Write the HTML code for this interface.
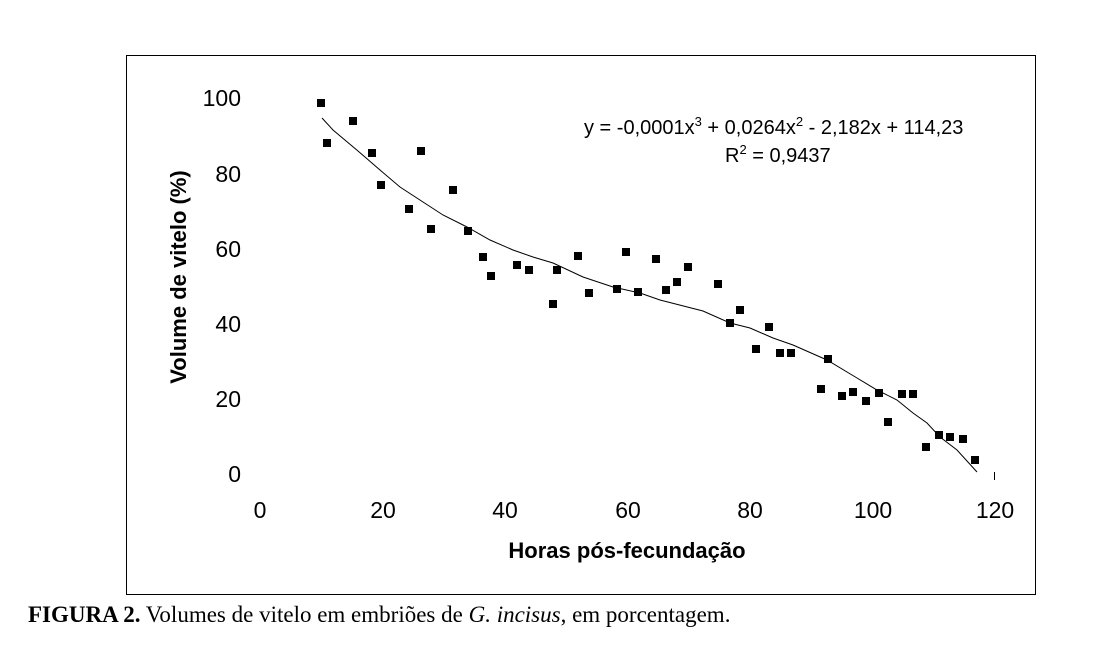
<!DOCTYPE html>
<html><head><meta charset="utf-8"><style>
body{margin:0;background:#fff;width:1113px;height:666px;overflow:hidden}
svg text{font-family:"Liberation Sans",Arial,sans-serif}
</style></head><body>
<svg id="s" width="1113" height="666" viewBox="0 0 1113 666">
<rect x="126.5" y="55.5" width="909" height="539" fill="none" stroke="#000" stroke-width="1"/>
<g font-size="23" text-anchor="end" fill="#000">
<text x="241" y="106">100</text><text x="241" y="182">80</text><text x="241" y="257">60</text>
<text x="241" y="332">40</text><text x="241" y="407">20</text><text x="241" y="482">0</text>
</g>
<g font-size="23" text-anchor="middle" fill="#000">
<text x="260" y="518">0</text><text x="383" y="518">20</text><text x="505" y="518">40</text>
<text x="628" y="518">60</text><text x="750" y="518">80</text><text x="873" y="518">100</text><text x="995" y="518">120</text>
</g>
<text x="627" y="558" font-size="22" font-weight="bold" text-anchor="middle">Horas pós-fecundação</text>
<text transform="translate(186,277) rotate(-90)" font-size="22" font-weight="bold" text-anchor="middle">Volume de vitelo (%)</text>
<text x="584" y="134" font-size="20">y = -0,0001x<tspan dy="-8" font-size="13">3</tspan><tspan dy="8"> + 0,0264x</tspan><tspan dy="-8" font-size="13">2</tspan><tspan dy="8"> - 2,182x + 114,23</tspan></text>
<text x="725" y="162" font-size="20">R<tspan dy="-8" font-size="13">2</tspan><tspan dy="8"> = 0,9437</tspan></text>
<polyline fill="none" stroke="#000" stroke-width="1" points="322,118 333,130 358,151 380,170 400,187 423,202 443,215 467,227 490,240 513,250 533,257 553,263 583,277 613,287 640,293 660,300 703,311 730,323 750,328 773,338 793,345 827,360 857,378 877,390 897,400 913,413 927,423 940,437 957,450 977,472"/>
<g id="p" fill="#000"></g>
<line x1="994.5" y1="472" x2="994.5" y2="480" stroke="#000"/>
<text x="28" y="622" font-size="23" style="font-family:'Liberation Serif',serif"><tspan font-weight="bold">FIGURA 2.</tspan> Volumes de vitelo em embriões de <tspan font-style="italic">G. incisus</tspan>, em porcentagem.</text>
</svg>
<script>
var pts=[[321,103],[327,143],[353,121],[372,153],[381,185],[409,209],[421,151],[431,229],[453,190],[468,231],[483,257],[491,276],[517,265],[529,270],[553,304],[557,270],[578,256],[589,293],[617,289],[626,252],[638,292],[656,259],[666,290],[677,282],[688,267],[718,284],[730,323],[740,310],[756,349],[769,327],[780,353],[791,353],[821,389],[828,359],[842,396],[853,392],[866,401],[879,393],[888,422],[902,394],[913,394],[926,447],[939,435],[950,437],[963,439],[975,460]];
var h='';
pts.forEach(function(q){h+='<rect x="'+(q[0]-4)+'" y="'+(q[1]-4)+'" width="8" height="8"/>';});
document.getElementById('p').innerHTML=h;
</script>
</body></html>
